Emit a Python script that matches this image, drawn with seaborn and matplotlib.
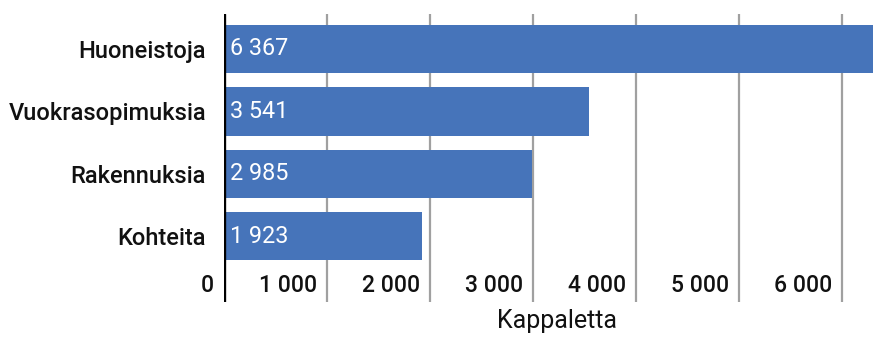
import matplotlib
matplotlib.use("Agg")
import matplotlib.pyplot as plt
import seaborn as sns
import pandas as pd

categories = ["Huoneistoja", "Vuokrasopimuksia", "Rakennuksia", "Kohteita"]
counts = [6367, 3541, 2985, 1923]
tick_values = [0, 1000, 2000, 3000, 4000, 5000, 6000]
x_label = "Kappaletta"

def fi_number(v):
    return f"{v:,}".replace(",", " ")

sns.set_theme(style="white")
plt.rcParams["font.family"] = ["Roboto", "DejaVu Sans"]

df = pd.DataFrame({"kategoria": categories, "maara": counts})

W, H = 873, 338
fig = plt.figure(figsize=(W / 100, H / 100), dpi=100)
ax = fig.add_axes([224 / W, (H - 302) / H, (W - 224) / W, (302 - 14) / H])

sns.barplot(data=df, x="maara", y="kategoria", orient="h", color="#4674BA",
            saturation=1, width=0.77, linewidth=0, ax=ax, zorder=2)

ax.set_xlim(0, 6300)
ax.set_ylim(4.05, -0.56)

# vertical gridlines behind the bars
for t in tick_values[1:]:
    ax.axvline(t, color="#A0A0A0", lw=1.6, zorder=1)
for s in ax.spines.values():
    s.set_visible(False)
ax.axvline(0, color="black", lw=2.4, zorder=3)

ax.set_xticks([])
ax.set_xlabel("")
ax.set_ylabel("")
ax.tick_params(axis="y", length=0, pad=13)
for lab in ax.get_yticklabels():
    lab.set_fontsize(17)
    lab.set_fontweight("medium")
    lab.set_color("#111111")

# value labels inside the bars
for i, v in enumerate(counts):
    ax.annotate(fi_number(v), xy=(0, i), xytext=(6, 0), textcoords="offset pixels",
                ha="left", va="center", color="white", fontsize=16.8)

# tick labels sit inside the plot, left of each gridline
for t in tick_values:
    ax.annotate(fi_number(t), xy=(t, 3.78), xytext=(-10, 0), textcoords="offset pixels",
                ha="right", va="center", color="#111111", fontsize=16.5,
                fontweight="medium", annotation_clip=False)

fig.text(557 / W, 1 - 321 / H, x_label, ha="center", va="center",
         fontsize=18, color="#111111")

fig.savefig("out.png", dpi=100)
